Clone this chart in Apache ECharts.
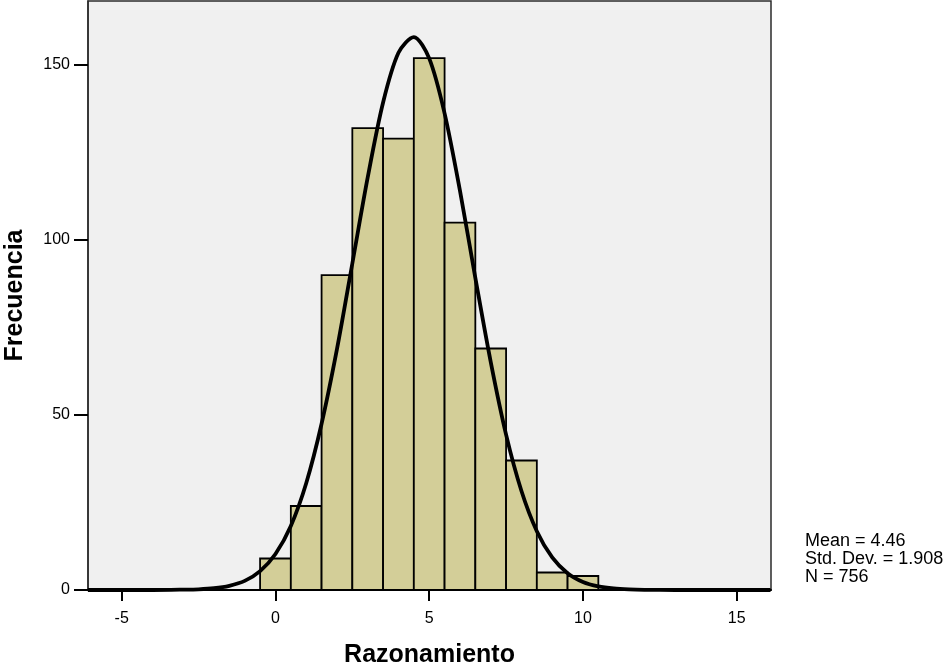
<!DOCTYPE html>
<html>
<head>
<meta charset="utf-8">
<script src="https://cdn.jsdelivr.net/npm/echarts@6/dist/echarts.min.js"></script>
<style>
html,body{margin:0;padding:0;background:#fff;}
#chart{width:947px;height:670px;}
</style>
</head>
<body>
<div id="chart"></div>
<script>
// Histogram bins (centers) and frequencies
var binCenters = [0, 1, 2, 3, 4, 5, 6, 7, 8, 9, 10];
var frequencies = [9, 24, 90, 132, 129, 152, 105, 69, 37, 5, 4];

// Normal curve points (x, frequency)
var curveX = [-6.1, -4, -3, -2.5, -2, -1.5, -1, -0.5, 0, 0.5, 1, 1.5, 2, 2.5, 3, 3.5, 4, 4.5, 5, 5.5, 6, 6.5, 7, 7.5, 8, 8.5, 9, 9.5, 10, 10.5, 11, 11.5, 12, 13, 16.1];
var curveY = [0, 0, 0.1, 0.2, 0.5, 1.2, 2.6, 5.4, 10.3, 18.3, 30.5, 47.5, 68.8, 93.3, 117.9, 139.3, 153.5, 158.0, 151.9, 136.2, 114.1, 89.2, 65.2, 44.4, 28.3, 16.8, 9.3, 4.8, 2.3, 1.05, 0.44, 0.17, 0.06, 0, 0];

// Axis ticks
var xTicks = [-5, 0, 5, 10, 15];
var yTicks = [0, 50, 100, 150];

// Summary statistics text
var statLines = ['Mean = 4.46', 'Std. Dev. = 1.908', 'N = 756'];

var barData = binCenters.map(function (c, i) { return [c, frequencies[i]]; });
var curveData = curveX.map(function (x, i) { return [x, curveY[i]]; });

var chart = echarts.init(document.getElementById('chart'), null, {renderer: 'canvas'});
var FONT = 'Liberation Sans, Arial, sans-serif';

chart.setOption({
  animation: false,
  backgroundColor: '#ffffff',
  grid: {
    left: 88, right: 176, top: 1, bottom: 80,
    containLabel: false,
    outerBoundsMode: 'none',
    show: true, backgroundColor: '#F0F0F0', borderColor: '#2b2b2b', borderWidth: 1.5
  },
  xAxis: {
    type: 'value',
    min: -6.096, max: 16.115,
    name: 'Razonamiento',
    nameLocation: 'middle',
    nameGap: 53,
    nameTextStyle: {fontFamily: FONT, fontSize: 25, fontWeight: 'bold', color: '#000'},
    splitLine: {show: false},
    axisLine: {show: true, onZero: false, lineStyle: {color: '#000', width: 2}},
    axisTick: {show: true, length: 11, lineStyle: {color: '#000', width: 2}, customValues: xTicks},
    axisLabel: {fontFamily: FONT, fontSize: 16, color: '#000', margin: 21, customValues: xTicks}
  },
  yAxis: {
    type: 'value',
    min: 0, max: 168.3,
    name: 'Frecuencia',
    nameLocation: 'middle',
    nameGap: 60,
    nameTextStyle: {fontFamily: FONT, fontSize: 25, fontWeight: 'bold', color: '#000'},
    splitLine: {show: false},
    axisLine: {show: true, onZero: false, lineStyle: {color: '#2b2b2b', width: 1.5}},
    axisTick: {show: true, length: 14, lineStyle: {color: '#000', width: 2}, customValues: yTicks},
    axisLabel: {fontFamily: FONT, fontSize: 16, color: '#000', margin: 18, customValues: yTicks}
  },
  graphic: [{
    type: 'text',
    left: 805, top: 532,
    style: {
      text: statLines.join('\n'),
      fontFamily: FONT, fontSize: 18, lineHeight: 18, fill: '#000'
    }
  }],
  series: [{
    type: 'custom',
    data: barData,
    clip: true,
    z: 2,
    renderItem: function (params, api) {
      var x = api.value(0), y = api.value(1);
      var p1 = api.coord([x - 0.5, y]);
      var p2 = api.coord([x + 0.5, 0]);
      return {
        type: 'rect',
        shape: {x: p1[0], y: p1[1], width: p2[0] - p1[0], height: p2[1] - p1[1]},
        style: {fill: '#D3CE98', stroke: '#000', lineWidth: 1.8}
      };
    }
  }, {
    type: 'line',
    data: curveData,
    smooth: 0.3,
    showSymbol: false,
    symbol: 'none',
    z: 3,
    clip: true,
    lineStyle: {color: '#000', width: 3.8}
  }]
});
</script>
</body>
</html>
